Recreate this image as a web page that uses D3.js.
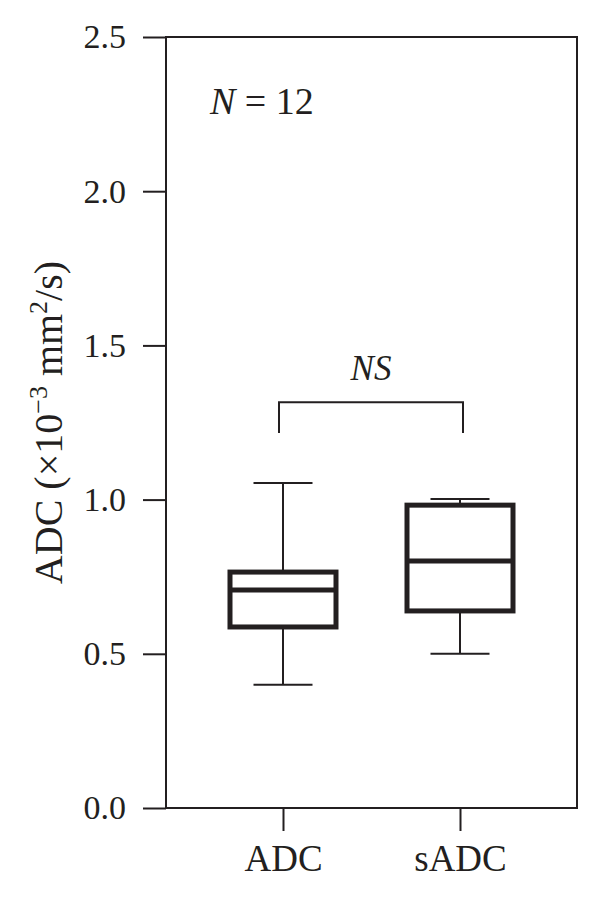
<!DOCTYPE html>
<html>
<head>
<meta charset="utf-8">
<script src="https://cdn.jsdelivr.net/npm/d3@7"></script>
<style>
  body { margin: 0; background: #fff; }
  text { font-family: "Liberation Serif", "DejaVu Serif", serif; fill: #231f20; }
</style>
</head>
<body>
<div id="chart"></div>
<script>
const groups = ["ADC", "sADC"];
const whiskerLow = [0.40, 0.50];
const q1 = [0.587, 0.639];
const medians = [0.707, 0.801];
const q3 = [0.765, 0.982];
const whiskerHigh = [1.054, 1.002];
const yTicks = [0, 0.5, 1.0, 1.5, 2.0, 2.5];
const bracketTop = 1.316;
const bracketEnd = 1.216;

const data = groups.map((g, i) => ({
  name: g, lo: whiskerLow[i], q1: q1[i], med: medians[i], q3: q3[i], hi: whiskerHigh[i]
}));

const width = 600, height = 900;
const margin = { top: 37, right: 23, bottom: 92, left: 166 };
const innerW = width - margin.left - margin.right;
const innerH = height - margin.top - margin.bottom;
const ink = "#231f20";

const svg = d3.select("#chart").append("svg")
  .attr("width", width)
  .attr("height", height);

const g = svg.append("g")
  .attr("transform", "translate(" + margin.left + "," + margin.top + ")");

const y = d3.scaleLinear().domain([0, 2.5]).range([innerH, 0]);
const x = d3.scalePoint().domain(groups).range([0, innerW]).padding(0.661);

// frame
g.append("rect")
  .attr("width", innerW)
  .attr("height", innerH)
  .attr("fill", "none")
  .attr("stroke", ink)
  .attr("stroke-width", 2);

// y axis
const yAxis = g.append("g")
  .call(d3.axisLeft(y).tickValues(yTicks).tickFormat(d3.format(".1f")).tickSize(23).tickPadding(17));
yAxis.select(".domain").remove();
yAxis.selectAll("line").attr("stroke", ink).attr("stroke-width", 2);
yAxis.selectAll("text").style("font-size", "34px").attr("fill", ink);

// x axis
const xAxis = g.append("g")
  .attr("transform", "translate(0," + innerH + ")")
  .call(d3.axisBottom(x).tickSize(23).tickPadding(14));
xAxis.select(".domain").remove();
xAxis.selectAll("line").attr("stroke", ink).attr("stroke-width", 2);
xAxis.selectAll("text").style("font-size", "37px").attr("fill", ink);

// y label
const yl = svg.append("text")
  .attr("transform", "translate(62," + (margin.top + innerH / 2) + ") rotate(-90)")
  .attr("text-anchor", "middle")
  .style("font-size", "40px");
yl.append("tspan").text("ADC (\u00d710");
yl.append("tspan").attr("dy", -15).style("font-size", "26px").text("\u22123");
yl.append("tspan").attr("dy", 15).text(" mm");
yl.append("tspan").attr("dy", -15).style("font-size", "26px").text("2");
yl.append("tspan").attr("dy", 15).text("/s)");

// boxes
const boxHalf = 53, capHalf = 29.5;
const box = g.selectAll(".box").data(data).enter().append("g").attr("class", "box");

box.append("line")
  .attr("x1", d => x(d.name)).attr("x2", d => x(d.name))
  .attr("y1", d => y(d.hi)).attr("y2", d => y(d.q3))
  .attr("stroke", ink).attr("stroke-width", 2);
box.append("line")
  .attr("x1", d => x(d.name)).attr("x2", d => x(d.name))
  .attr("y1", d => y(d.q1)).attr("y2", d => y(d.lo))
  .attr("stroke", ink).attr("stroke-width", 2);
box.append("line")
  .attr("x1", d => x(d.name) - capHalf).attr("x2", d => x(d.name) + capHalf)
  .attr("y1", d => y(d.hi)).attr("y2", d => y(d.hi))
  .attr("stroke", ink).attr("stroke-width", 2);
box.append("line")
  .attr("x1", d => x(d.name) - capHalf).attr("x2", d => x(d.name) + capHalf)
  .attr("y1", d => y(d.lo)).attr("y2", d => y(d.lo))
  .attr("stroke", ink).attr("stroke-width", 2);
box.append("rect")
  .attr("x", d => x(d.name) - boxHalf)
  .attr("y", d => y(d.q3))
  .attr("width", boxHalf * 2)
  .attr("height", d => y(d.q1) - y(d.q3))
  .attr("fill", "#fff")
  .attr("stroke", ink).attr("stroke-width", 5);
box.append("line")
  .attr("x1", d => x(d.name) - boxHalf).attr("x2", d => x(d.name) + boxHalf)
  .attr("y1", d => y(d.med)).attr("y2", d => y(d.med))
  .attr("stroke", ink).attr("stroke-width", 5);

// significance bracket
const bx1 = x(groups[0]) - 4, bx2 = x(groups[1]) + 3;
g.append("path")
  .attr("d", "M" + bx1 + "," + y(bracketEnd) + "V" + y(bracketTop) + "H" + bx2 + "V" + y(bracketEnd))
  .attr("fill", "none").attr("stroke", ink).attr("stroke-width", 2);
g.append("text")
  .attr("x", (bx1 + bx2) / 2)
  .attr("y", y(bracketTop) - 22)
  .attr("text-anchor", "middle")
  .style("font-size", "35px").style("font-style", "italic")
  .text("NS");

// N annotation
const nt = g.append("text")
  .attr("x", 44).attr("y", 77)
  .style("font-size", "38px");
nt.append("tspan").style("font-style", "italic").text("N");
nt.append("tspan").text(" = 12");
</script>
</body>
</html>
